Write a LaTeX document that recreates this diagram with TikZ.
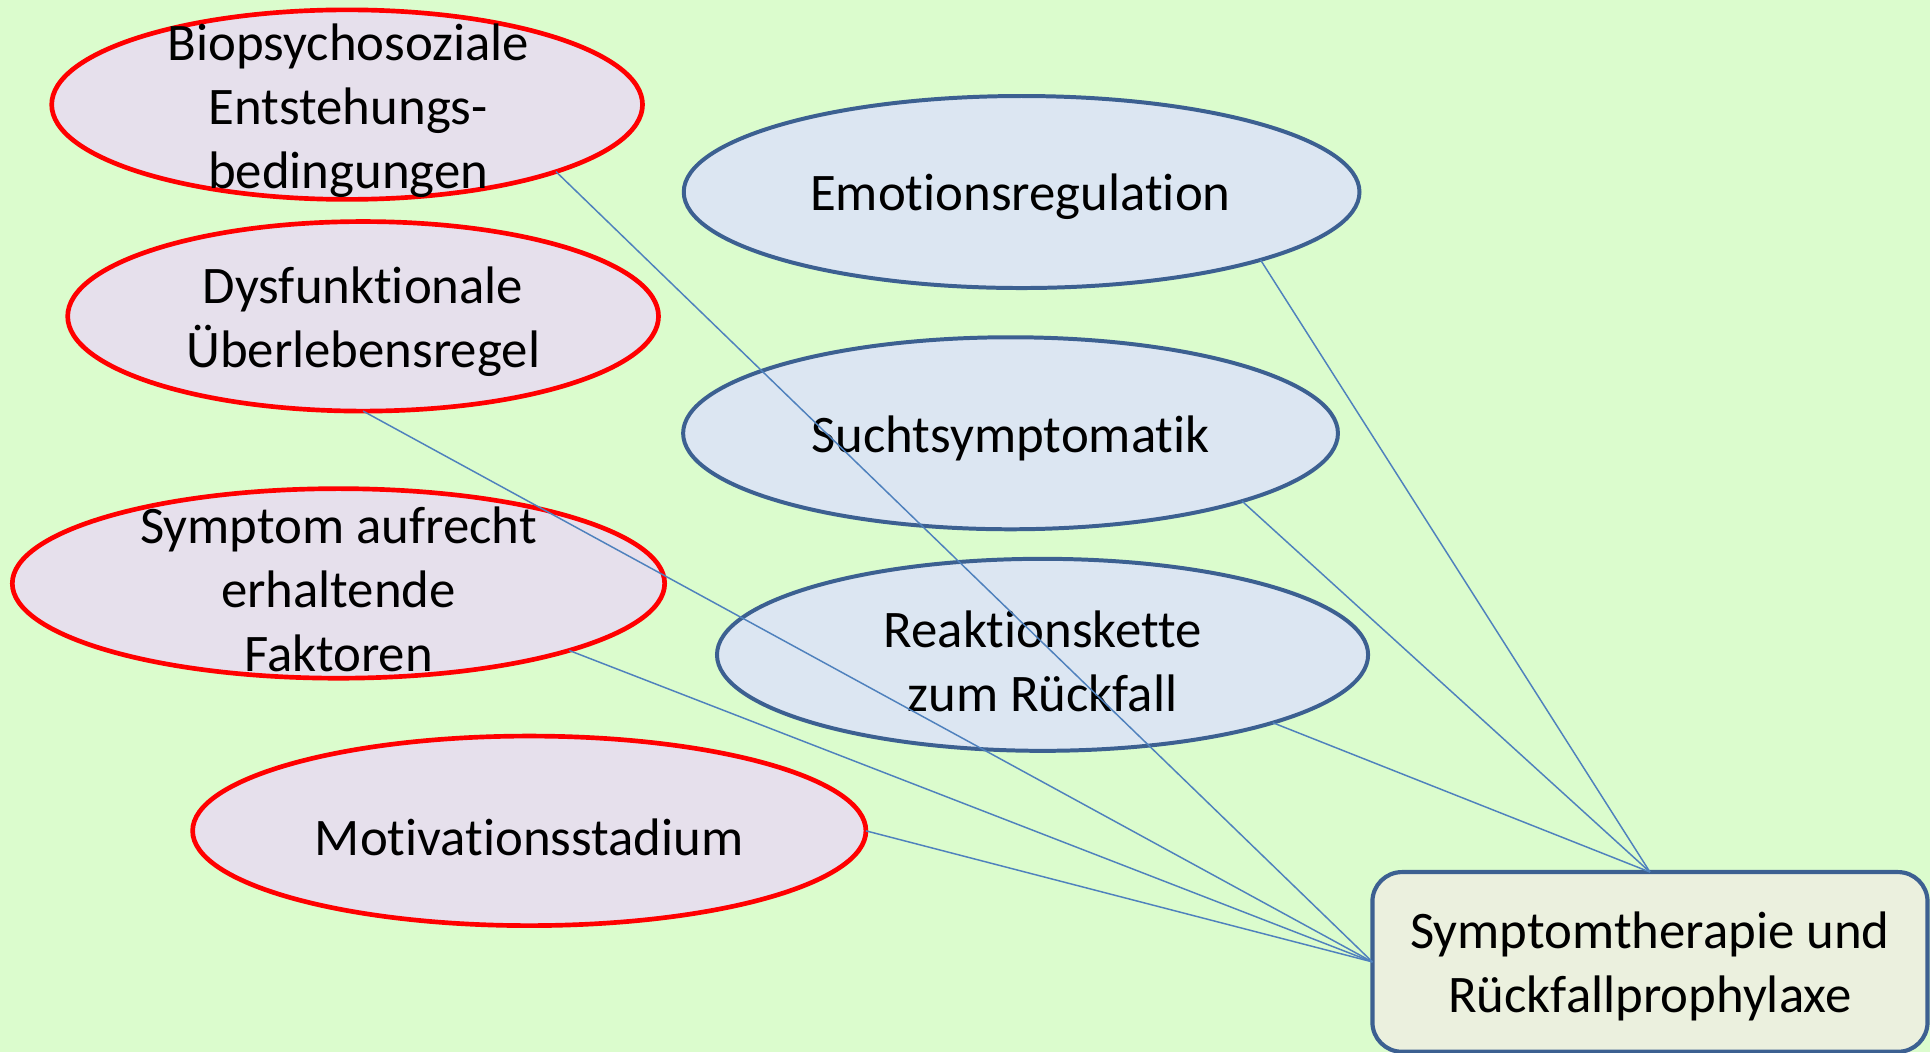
\documentclass[tikz,border=0pt]{standalone}
\usepackage{fontspec}
\setmainfont{Carlito}[Ligatures=NoCommon, RawFeature={-liga;-clig;-calt}]
\usetikzlibrary{shapes.geometric}
\definecolor{bg}{RGB}{219,252,205}
\definecolor{ovalred}{RGB}{255,0,0}
\definecolor{ovalredfill}{RGB}{230,224,236}
\definecolor{ovalblue}{RGB}{60,96,145}
\definecolor{ovalbluefill}{RGB}{220,230,242}
\definecolor{boxfill}{RGB}{235,240,222}
\definecolor{linkblue}{RGB}{79,129,189}
\begin{document}
\begin{tikzpicture}[x=0.025cm,y=-0.025cm,
  every node/.style={outer sep=0pt},
  oval/.style 2 args={ellipse, inner sep=0pt,
    minimum width=#1*0.025cm, minimum height=#2*0.025cm},
  redoval/.style={draw=ovalred, fill=ovalredfill, line width=2.7pt},
  blueoval/.style={draw=ovalblue, fill=ovalbluefill, line width=2.3pt},
  lbl/.style={align=center, inner sep=0pt, font=\fontsize{30.5}{37}\selectfont},
  link/.style={draw=linkblue, line width=0.85pt},
]
% page background
\fill[bg] (0,0) rectangle (1568,855);
\useasboundingbox (0,0) rectangle (1568,855);

% red ovals (left column)
\node[oval={480}{154}, redoval] (bio) at (282,85) {};
\node[lbl] (bio-t) at (283,90) {Biopsychosoziale\\Entstehungs-\\bedingungen};
\node[oval={480}{154}, redoval] (dys) at (295,257) {};
\node[lbl] (dys-t) at (295,261) {Dysfunktionale\\Überlebensregel};
\node[oval={530}{154}, redoval] (sym) at (275,474) {};
\node[lbl] (sym-t) at (275,479) {Symptom aufrecht\\erhaltende\\Faktoren};
\node[oval={547}{154}, redoval] (mot) at (430,675) {};
\node[lbl] (mot-t) at (430,680) {Motivationsstadium};

% blue ovals (middle column)
\node[oval={549}{156}, blueoval] (emo) at (830,156) {};
\node[lbl] (emo-t) at (829,160) {Emotionsregulation};
\node[oval={532}{156}, blueoval] (such) at (821,352) {};
\node[lbl] (such-t) at (821,356) {Suchtsymptomatik};
\node[oval={529}{156}, blueoval] (reak) at (847,532) {};
\node[lbl] (reak-t) at (847,537) {Reaktionskette\\zum Rückfall};

% target box
\node[draw=ovalblue, fill=boxfill, line width=2.4pt, rounded corners=0.6cm,
      minimum width=451*0.025cm, minimum height=146*0.025cm] (box) at (1340.5,781.5) {};
\node[lbl] (box-t) at (1340.5,785) {Symptomtherapie und\\Rückfallprophylaxe};

% connectors
\draw[link] (bio.south east) -- (box.west);
\draw[link] (dys.south) -- (box.west);
\draw[link] (sym.south east) -- (box.west);
\draw[link] (mot.east) -- (box.west);
\draw[link] (emo.south east) -- (box.north);
\draw[link] (such.south east) -- (box.north);
\draw[link] (reak.south east) -- (box.north);
\end{tikzpicture}
\end{document}
